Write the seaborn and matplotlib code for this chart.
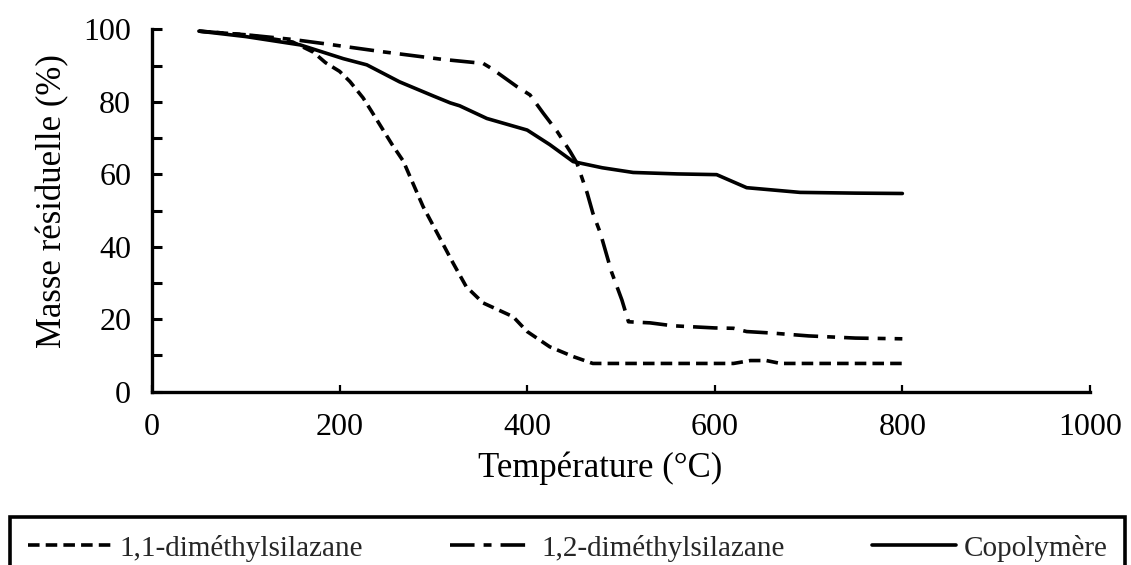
import matplotlib
matplotlib.use("Agg")
import pandas as pd
import seaborn as sns
from matplotlib import pyplot as plt
from matplotlib.ticker import MultipleLocator

# 1,1-diméthylsilazane
temp_11 = [50, 100, 150, 172, 185, 200, 211, 225, 234, 245, 256, 268, 275, 289, 304, 321,
           335, 353, 385, 400, 424, 449, 470, 500, 550, 600, 620, 638, 655, 670, 700, 750, 800]
mass_11 = [99.5, 98.5, 96.5, 93.7, 90.8, 88.4, 85.6, 81.1, 77.4, 72.8, 68.2, 63.6, 59.4, 51.1, 43.8, 35.5,
           29.0, 24.5, 20.7, 16.6, 12.4, 9.7, 7.8, 7.8, 7.8, 7.8, 7.8, 8.6, 8.6, 7.8, 7.8, 7.8, 7.8]

# 1,2-diméthylsilazane
temp_12 = [50, 100, 150, 182, 246, 310, 353, 362, 389, 403, 417, 432, 446, 453, 464, 470, 478,
           490, 501, 508, 531, 555, 600, 620, 634, 660, 700, 750, 800]
mass_12 = [99.5, 98.5, 97.2, 96.1, 93.8, 91.7, 90.6, 89.2, 84.2, 81.9, 76.9, 71.8, 66.2, 63.1, 54.8, 49.3, 43.8,
           33.0, 25.3, 19.3, 19.0, 18.2, 17.6, 17.5, 16.6, 16.2, 15.4, 14.8, 14.6]

# Copolymère
temp_co = [50, 100, 158, 204, 229, 264, 300, 318, 328, 357, 400, 424, 449, 480, 513, 560, 602,
           634, 691, 750, 800]
mass_co = [99.5, 98.0, 95.7, 91.9, 90.2, 85.5, 81.6, 79.7, 78.9, 75.4, 72.2, 68.2, 63.5, 61.8, 60.5, 60.1, 59.9,
           56.3, 55.0, 54.8, 54.7]

labels = ["1,1-diméthylsilazane", "1,2-diméthylsilazane", "Copolymère"]
x_ticks = [0, 200, 400, 600, 800, 1000]
y_ticks = [0, 20, 40, 60, 80, 100]

sns.set_theme(style="white")
plt.rcParams["font.family"] = ["Liberation Serif", "DejaVu Serif"]

fig = plt.figure(figsize=(11.31, 5.65), dpi=100)
ax = fig.add_axes([0.1344, 0.3067, 0.8293, 0.6414])

series = [
    (temp_11, mass_11, (0, (3.2, 1.7))),
    (temp_12, mass_12, (0, (6.8, 2.5, 2.2, 2.5))),
    (temp_co, mass_co, "-"),
]
for (t, m, ls), lab in zip(series, labels):
    df = pd.DataFrame({"T": t, "M": m})
    sns.lineplot(data=df, x="T", y="M", ax=ax, color="black", lw=2.6,
                 linestyle=ls, label=lab, estimator=None, sort=False)

ax.set_xlim(0, 1000)
ax.set_ylim(0, 100)
ax.set_xticks(x_ticks)
ax.set_yticks(y_ticks)
ax.yaxis.set_minor_locator(MultipleLocator(10))

for side in ["top", "right"]:
    ax.spines[side].set_visible(False)
for side in ["left", "bottom"]:
    ax.spines[side].set_linewidth(2.4)
    ax.spines[side].set_color("black")

ax.tick_params(axis="x", which="major", direction="in", length=5, width=1.6,
               pad=15, labelsize=23, colors="black", bottom=True)
ax.tick_params(axis="y", which="both", direction="in", length=7, width=2.2,
               pad=15, labelsize=23, colors="black", left=True)
ax.tick_params(axis="y", which="minor", labelleft=False)

ax.set_xlabel("Température (°C)", fontsize=25, color="black")
ax.set_ylabel("Masse résiduelle (%)", fontsize=25, color="black")
ax.xaxis.set_label_coords(0.478, -0.166)
ax.yaxis.set_label_coords(-0.088, 0.525)

handles, labs = ax.get_legend_handles_labels()
ax.get_legend().remove()
leg = fig.legend(handles, labs, loc="upper left", ncol=3, mode="expand",
                 bbox_to_anchor=(10 / 1131, 48 / 565, 1115 / 1131, 0),
                 fontsize=21, frameon=True, fancybox=False, framealpha=1,
                 edgecolor="black", handlelength=2.9, handletextpad=0.25,
                 borderpad=0.6, borderaxespad=0)
leg.get_frame().set_linewidth(2.6)

fig.savefig("out.png", dpi=100, facecolor="white")
